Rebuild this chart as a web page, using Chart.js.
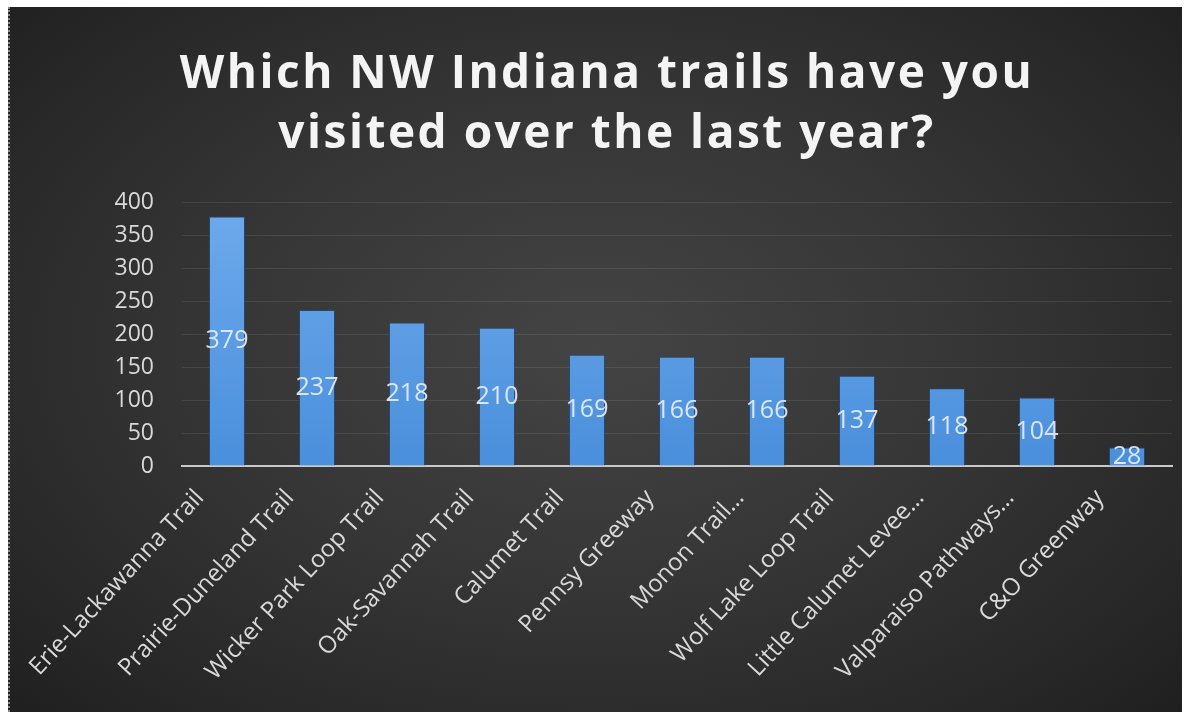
<!DOCTYPE html>
<html>
<head>
<meta charset="utf-8">
<title>NW Indiana trails</title>
<script src="https://cdn.jsdelivr.net/npm/chart.js@4.4.0/dist/chart.umd.min.js"></script>
<style>
  html, body { margin: 0; padding: 0; background: #fff; }
  #wrap {
    position: absolute; left: 8px; top: 7px; width: 1172px; height: 705px;
    background: radial-gradient(ellipse 70% 75% at 50% 48%, #444 0%, #363636 45%, #262626 85%, #1f1f1f 100%);
    border-left: 2px dotted #888;
  }
  #wrap canvas { position: absolute; left: 0; top: 0; }
</style>
</head>
<body>
<div id="wrap"><canvas id="trails"></canvas></div>
<script>
// survey answers
var trailNames = [
  'Erie-Lackawanna Trail', 'Prairie-Duneland Trail', 'Wicker Park Loop Trail',
  'Oak-Savannah Trail', 'Calumet Trail', 'Pennsy Greeway', 'Monon Trail…',
  'Wolf Lake Loop Trail', 'Little Calumet Levee…', 'Valparaiso Pathways…', 'C&O Greenway'
];
var visitCounts = [379, 237, 218, 210, 169, 166, 166, 137, 118, 104, 28];
var titleLines = ['Which NW Indiana trails have you', 'visited over the last year?'];

// value printed in the middle of each bar
var barValueLabels = {
  id: 'barValueLabels',
  afterDatasetsDraw: function(chart) {
    var ctx = chart.ctx;
    var meta = chart.getDatasetMeta(0);
    ctx.save();
    ctx.font = '25px "Open Sans"';
    ctx.fillStyle = 'rgba(230,238,248,0.92)';
    ctx.textAlign = 'center';
    ctx.textBaseline = 'middle';
    meta.data.forEach(function(bar, i) {
      ctx.fillText(visitCounts[i], bar.x, (bar.y + bar.base) / 2);
    });
    ctx.restore();
  }
};

function barFill(c) {
  var area = c.chart.chartArea;
  if (!area) return '#5b9bd5';
  var g = c.chart.ctx.createLinearGradient(0, area.top, 0, area.bottom);
  g.addColorStop(0, '#6eaaec');
  g.addColorStop(1, '#4a8fdc');
  return g;
}

var ctx = document.getElementById('trails');
var myChart = new Chart(ctx, {
  type: 'bar',
  data: {
    labels: trailNames,
    datasets: [{
      data: visitCounts,
      backgroundColor: barFill,
      borderColor: 'rgba(35,75,130,0.8)',
      borderWidth: 1,
      categoryPercentage: 1,
      barPercentage: 0.4
    }]
  },
  options: {
    responsive: true,
    maintainAspectRatio: false,
    animation: false,
    layout: { padding: { left: 32, right: 10, top: 0, bottom: 0 } },
    plugins: {
      legend: { display: false },
      tooltip: { enabled: false },
      title: {
        display: true,
        text: titleLines,
        color: '#f4f4f4',
        font: { family: 'Open Sans', size: 46, weight: 'bold', lineHeight: 1.3 },
        padding: { top: 38, bottom: 38 }
      }
    },
    scales: {
      x: {
        grid: { display: false },
        border: { display: true, color: '#c9c9c9', width: 2 },
        ticks: {
          color: '#d9d9d9',
          font: { family: 'Open Sans', size: 24 },
          minRotation: 47,
          maxRotation: 47,
          autoSkip: false,
          labelOffset: -27,
          padding: 10
        },
        afterFit: function(s) { s.height = 246; }
      },
      y: {
        min: 0,
        max: 400,
        ticks: {
          stepSize: 50,
          color: '#d9d9d9',
          font: { family: 'Open Sans', size: 23 },
          padding: 28
        },
        grid: { color: 'rgba(255,255,255,0.09)', drawTicks: false },
        border: { display: false },
        afterFit: function(s) { s.width = 140; }
      }
    }
  },
  plugins: [barValueLabels]
});

// wider letter spacing for the heading only
var drawTitle = myChart.titleBlock.draw;
myChart.titleBlock.draw = function() {
  myChart.ctx.letterSpacing = '2.5px';
  drawTitle.apply(this, arguments);
  myChart.ctx.letterSpacing = '0px';
};
myChart.draw();
</script>
</body>
</html>
